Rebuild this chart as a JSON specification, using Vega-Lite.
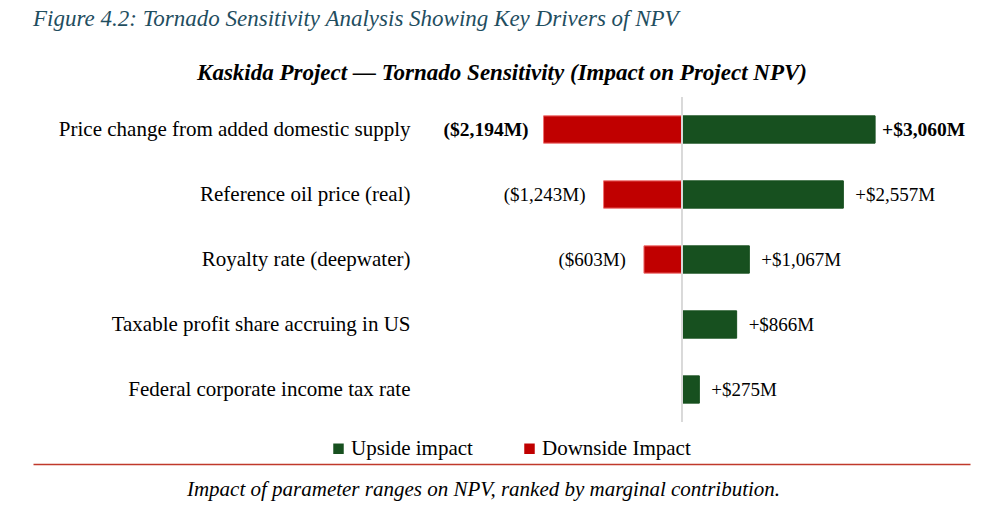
{
  "$schema": "https://vega.github.io/schema/vega-lite/v6.json",
  "autosize": {"type": "none"},
  "width": 937,
  "height": 325,
  "padding": {"left": 33, "top": 97, "right": 30, "bottom": 98},
  "background": "white",
  "config": {"view": {"stroke": null}, "font": "Liberation Serif"},
  "title": {
    "text": "Figure 4.2: Tornado Sensitivity Analysis Showing Key Drivers of NPV",
    "anchor": "start",
    "frame": "group",
    "font": "Liberation Serif",
    "fontStyle": "italic",
    "fontWeight": "normal",
    "fontSize": 23,
    "color": "#1f4e5f",
    "offset": 30
  },
  "data": {
    "values": [
      {"param": "Price change from added domestic supply", "rank": 1, "impact": "Upside impact", "value": 3060, "label": "+$3,060M"},
      {"param": "Price change from added domestic supply", "rank": 1, "impact": "Downside Impact", "value": -2194, "label": "($2,194M)"},
      {"param": "Reference oil price (real)", "rank": 2, "impact": "Upside impact", "value": 2557, "label": "+$2,557M"},
      {"param": "Reference oil price (real)", "rank": 2, "impact": "Downside Impact", "value": -1243, "label": "($1,243M)"},
      {"param": "Royalty rate (deepwater)", "rank": 3, "impact": "Upside impact", "value": 1067, "label": "+$1,067M"},
      {"param": "Royalty rate (deepwater)", "rank": 3, "impact": "Downside Impact", "value": -603, "label": "($603M)"},
      {"param": "Taxable profit share accruing in US", "rank": 4, "impact": "Upside impact", "value": 866, "label": "+$866M"},
      {"param": "Federal corporate income tax rate", "rank": 5, "impact": "Upside impact", "value": 275, "label": "+$275M"}
    ]
  },
  "encoding": {
    "y": {
      "field": "param",
      "type": "nominal",
      "sort": {"field": "rank", "op": "min", "order": "ascending"},
      "scale": {"paddingInner": 0.58, "paddingOuter": 0.29},
      "axis": {
        "title": null,
        "orient": "left",
        "offset": -377,
        "domain": false,
        "ticks": false,
        "labelPadding": 0,
        "labelFont": "Liberation Serif",
        "labelFontSize": 21,
        "labelColor": "#000000",
        "labelLimit": 0
      }
    }
  },
  "resolve": {"axis": {"x": "independent"}},
  "layer": [
    {
      "mark": {"type": "bar", "strokeWidth": 1},
      "encoding": {
        "x": {
          "field": "value",
          "type": "quantitative",
          "scale": {"domain": [-10285, 4564], "nice": false, "zero": false},
          "axis": {
            "orient": "bottom",
            "offset": 42,
            "domain": true,
            "domainColor": "#c0392b",
            "domainWidth": 1.5,
            "ticks": false,
            "labels": false,
            "grid": false,
            "title": "Impact of parameter ranges on NPV, ranked by marginal contribution.",
            "titleFont": "Liberation Serif",
            "titleFontStyle": "italic",
            "titleFontWeight": "normal",
            "titleFontSize": 21,
            "titleColor": "#000000",
            "titlePadding": 14,
            "titleX": 450
          }
        },
        "color": {
          "field": "impact",
          "type": "nominal",
          "scale": {"domain": ["Upside impact", "Downside Impact"], "range": ["#17501f", "#c00000"]},
          "legend": {
            "title": null,
            "orient": "none",
            "legendX": 295,
            "legendY": 341,
            "direction": "horizontal",
            "symbolType": "square",
            "symbolSize": 110,
            "symbolStrokeWidth": 0,
            "labelFont": "Liberation Serif",
            "labelFontSize": 21,
            "labelColor": "#000000",
            "labelOffset": 2,
            "columnPadding": 46,
            "labelLimit": 0
          }
        },
        "stroke": {
          "field": "impact",
          "type": "nominal",
          "scale": {"domain": ["Upside impact", "Downside Impact"], "range": ["#17501f", "#f07070"]},
          "legend": null
        }
      }
    },
    {
      "mark": {"type": "rule", "color": "#d9d9d9", "strokeWidth": 1},
      "encoding": {
        "x": {
          "datum": 0,
          "type": "quantitative",
          "axis": {
            "orient": "top",
            "domain": false,
            "ticks": false,
            "labels": false,
            "grid": false,
            "title": "Kaskida Project — Tornado Sensitivity (Impact on Project NPV)",
            "titleFont": "Liberation Serif",
            "titleFontStyle": "italic",
            "titleFontWeight": "bold",
            "titleFontSize": 23,
            "titleColor": "#000000",
            "titlePadding": 13
          }
        },
        "y": null
      }
    },
    {
      "transform": [{"filter": "datum.impact === 'Upside impact' && datum.rank > 1"}],
      "mark": {"type": "text", "align": "left", "baseline": "middle", "dx": 12, "font": "Liberation Serif", "fontSize": 19, "color": "#000000"},
      "encoding": {
        "x": {"field": "value", "type": "quantitative", "axis": null},
        "text": {"field": "label"}
      }
    },
    {
      "transform": [{"filter": "datum.impact === 'Downside Impact' && datum.rank > 1"}],
      "mark": {"type": "text", "align": "right", "baseline": "middle", "dx": -18, "font": "Liberation Serif", "fontSize": 19, "color": "#000000"},
      "encoding": {
        "x": {"field": "value", "type": "quantitative", "axis": null},
        "text": {"field": "label"}
      }
    },
    {
      "transform": [{"filter": "datum.impact === 'Upside impact' && datum.rank === 1"}],
      "mark": {"type": "text", "align": "left", "baseline": "middle", "dx": 7, "font": "Liberation Serif", "fontSize": 19.5, "fontWeight": "bold", "color": "#000000"},
      "encoding": {
        "x": {"field": "value", "type": "quantitative", "axis": null},
        "text": {"field": "label"}
      }
    },
    {
      "transform": [{"filter": "datum.impact === 'Downside Impact' && datum.rank === 1"}],
      "mark": {"type": "text", "align": "right", "baseline": "middle", "dx": -15, "font": "Liberation Serif", "fontSize": 19.5, "fontWeight": "bold", "color": "#000000"},
      "encoding": {
        "x": {"field": "value", "type": "quantitative", "axis": null},
        "text": {"field": "label"}
      }
    }
  ]
}
